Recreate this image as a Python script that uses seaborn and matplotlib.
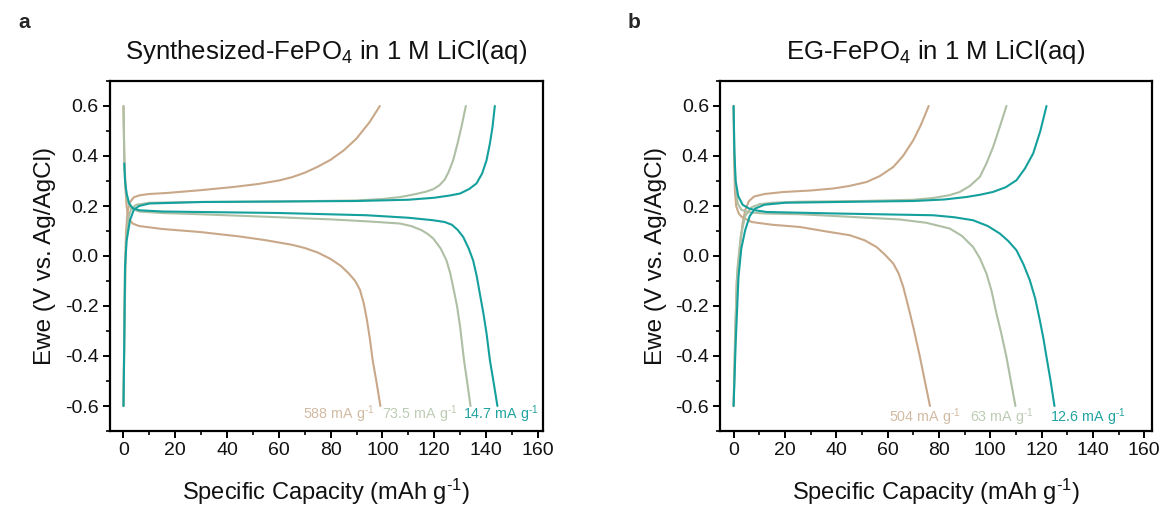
import numpy as np
import pandas as pd
import matplotlib
matplotlib.use("Agg")
import matplotlib.pyplot as plt
import seaborn as sns
from matplotlib.ticker import MultipleLocator

# ---------------- data (panel a: Synthesized-FePO4) ----------------
a_tan_chg_x = [0, 0.3, 0.6, 1.0, 1.6, 2.5, 4, 6.3, 10, 16.6, 29.5, 42.4, 52, 60, 65, 70, 75, 80, 85, 90, 95, 99]
a_tan_chg_y = [-0.6, -0.3, -0.05, 0.1, 0.18, 0.215, 0.235, 0.243, 0.248, 0.252, 0.263, 0.276, 0.288, 0.302, 0.315, 0.333, 0.357, 0.385, 0.422, 0.47, 0.535, 0.6]
a_tan_dis_x = [0, 0.3, 0.7, 1.2, 2, 3.5, 6, 15, 29.5, 45, 55, 65, 70, 75, 80, 84, 87, 89.5, 91.3, 92.8, 94, 95.2, 96.2, 97.8, 99.2]
a_tan_dis_y = [0.6, 0.4, 0.28, 0.2, 0.15, 0.13, 0.12, 0.108, 0.096, 0.078, 0.063, 0.045, 0.032, 0.014, -0.012, -0.04, -0.07, -0.1, -0.135, -0.19, -0.255, -0.335, -0.415, -0.51, -0.6]

a_sage_chg_x = [0, 0.5, 1, 1.8, 3, 5, 10, 30, 60, 90, 100, 107, 113, 117, 119.6, 122, 124, 125.5, 127.3, 129, 130.5, 132.2]
a_sage_chg_y = [-0.6, -0.2, 0.05, 0.15, 0.19, 0.205, 0.213, 0.216, 0.218, 0.222, 0.228, 0.236, 0.248, 0.258, 0.267, 0.283, 0.305, 0.335, 0.383, 0.45, 0.516, 0.6]
a_sage_dis_x = [0, 0.3, 0.8, 1.5, 3, 6, 15, 29.5, 55, 81, 95, 106.7, 111, 115, 117.5, 119.6, 122.5, 124.7, 126.2, 127.3, 128.8, 130, 131.5, 132.8, 134]
a_sage_dis_y = [0.6, 0.4, 0.28, 0.22, 0.19, 0.178, 0.172, 0.167, 0.157, 0.146, 0.138, 0.13, 0.12, 0.104, 0.088, 0.07, 0.03, -0.017, -0.07, -0.124, -0.2, -0.284, -0.417, -0.51, -0.6]

a_teal_chg_x = [0, 0.3, 0.6, 1.2, 2.5, 4, 6, 10, 30, 60, 90, 110, 120, 126, 130, 133.5, 136.3, 138.5, 140.2, 141.5, 142.5, 143.4]
a_teal_chg_y = [-0.6, -0.35, -0.044, 0.06, 0.143, 0.185, 0.2, 0.21, 0.216, 0.218, 0.22, 0.225, 0.233, 0.242, 0.25, 0.268, 0.29, 0.33, 0.383, 0.45, 0.516, 0.6]
a_teal_dis_x = [0.3, 0.6, 1.2, 2.2, 3.5, 6, 15, 29.5, 60, 93.9, 110, 119.6, 124, 126.8, 129, 131.2, 133.3, 135, 136.4, 137.6, 139, 140.2, 141.5, 143, 144.4]
a_teal_dis_y = [0.37, 0.3, 0.25, 0.21, 0.192, 0.183, 0.178, 0.176, 0.172, 0.163, 0.153, 0.143, 0.136, 0.125, 0.105, 0.076, 0.03, -0.017, -0.08, -0.15, -0.23, -0.31, -0.417, -0.51, -0.6]

# ---------------- data (panel b: EG-FePO4) ----------------
b_tan_chg_x = [0, 0.6, 1.2, 2.5, 3.5, 4.5, 6, 8, 12, 19.4, 30, 38.8, 45, 51.8, 57, 62.2, 66, 70, 73, 76]
b_tan_chg_y = [-0.6, -0.35, -0.1, 0.04, 0.13, 0.183, 0.22, 0.238, 0.248, 0.256, 0.262, 0.27, 0.28, 0.296, 0.32, 0.356, 0.4, 0.463, 0.525, 0.6]
b_tan_dis_x = [0, 0.2, 0.5, 1, 2, 3.2, 7, 15, 25.9, 35, 45.3, 51, 55.7, 59, 62.2, 64.3, 66.1, 68, 70, 72.6, 74.5, 76.5]
b_tan_dis_y = [0.6, 0.4, 0.26, 0.2, 0.17, 0.156, 0.136, 0.125, 0.116, 0.1, 0.083, 0.063, 0.036, 0.005, -0.03, -0.07, -0.124, -0.2, -0.284, -0.404, -0.5, -0.6]

b_sage_chg_x = [0, 0.6, 1.5, 2.8, 4.5, 7, 10, 15, 25, 50, 70, 77.7, 84, 88.1, 92, 95.9, 98.5, 101.1, 103.8, 106.3]
b_sage_chg_y = [-0.6, -0.3, -0.05, 0.08, 0.16, 0.195, 0.207, 0.213, 0.217, 0.22, 0.225, 0.232, 0.243, 0.256, 0.28, 0.316, 0.37, 0.436, 0.52, 0.6]
b_sage_dis_x = [0, 0.3, 0.8, 1.6, 3, 6, 12, 25.9, 45, 64.8, 75, 84.2, 89, 93.3, 96, 98.5, 100.5, 102.4, 104.3, 106.3, 108, 109.8]
b_sage_dis_y = [0.6, 0.4, 0.27, 0.21, 0.185, 0.175, 0.17, 0.167, 0.157, 0.146, 0.133, 0.11, 0.08, 0.036, -0.01, -0.07, -0.14, -0.23, -0.31, -0.404, -0.5, -0.6]

b_teal_chg_x = [0, 0.8, 1.9, 3, 4.5, 6.3, 8.4, 12, 20, 40, 70, 82, 90.7, 96, 101, 106, 110.2, 113.5, 116.7, 119.5, 121.9]
b_teal_chg_y = [-0.6, -0.35, -0.084, 0.03, 0.103, 0.16, 0.19, 0.205, 0.213, 0.216, 0.22, 0.226, 0.236, 0.245, 0.256, 0.275, 0.303, 0.35, 0.41, 0.5, 0.6]
b_teal_dis_x = [0, 0.3, 0.8, 1.8, 3.5, 6, 9, 12.9, 40, 77.7, 86, 93.3, 99, 103.7, 107, 110.2, 113, 115.4, 117.5, 119.3, 120.7, 121.9, 123.5, 125]
b_teal_dis_y = [0.6, 0.42, 0.3, 0.24, 0.205, 0.19, 0.182, 0.176, 0.17, 0.163, 0.155, 0.143, 0.12, 0.09, 0.06, 0.023, -0.035, -0.097, -0.17, -0.257, -0.33, -0.404, -0.5, -0.6]

a_rates = ["588 mA g$^{\\text{-1}}$", "73.5 mA g$^{\\text{-1}}$", "14.7 mA g$^{\\text{-1}}$"]
b_rates = ["504 mA g$^{\\text{-1}}$", "63 mA g$^{\\text{-1}}$", "12.6 mA g$^{\\text{-1}}$"]
titles = ["Synthesized-FePO$_4$ in 1 M LiCl(aq)", "EG-FePO$_4$ in 1 M LiCl(aq)"]
xlabel = "Specific Capacity (mAh g$^{\\text{-1}}$)"
ylabel = "Ewe (V vs. Ag/AgCl)"
panel_letters = ["a", "b"]

# ---------------- style ----------------
sns.set_theme(style="ticks")
plt.rcParams['font.family'] = ['Liberation Sans', 'DejaVu Sans']
plt.rcParams['mathtext.fontset'] = 'custom'
plt.rcParams['mathtext.rm'] = 'Liberation Sans'
plt.rcParams['mathtext.it'] = 'Liberation Sans:italic'
plt.rcParams['mathtext.bf'] = 'Liberation Sans:bold'

colors = ["#C8A888", "#AEBFA4", "#14A09C"]
label_colors = ["#D2BBA3", "#BDCCB4", "#21A3A0"]

W, H = 1160, 508
fig = plt.figure(figsize=(W / 100, H / 100), dpi=100)

def box(x0, x1, ytop, ybot):
    return [x0 / W, 1 - ybot / H, (x1 - x0) / W, (ybot - ytop) / H]

ax_a = fig.add_axes(box(109.5, 543, 81, 431))
ax_b = fig.add_axes(box(720, 1152, 81, 431))

panels = [
    (ax_a, [(a_tan_chg_x, a_tan_chg_y, a_tan_dis_x, a_tan_dis_y),
            (a_sage_chg_x, a_sage_chg_y, a_sage_dis_x, a_sage_dis_y),
            (a_teal_chg_x, a_teal_chg_y, a_teal_dis_x, a_teal_dis_y)],
     a_rates, [69.2, 99.7, 131.0], -0.633, (-5.4, 162.0)),
    (ax_b, [(b_tan_chg_x, b_tan_chg_y, b_tan_dis_x, b_tan_dis_y),
            (b_sage_chg_x, b_sage_chg_y, b_sage_dis_x, b_sage_dis_y),
            (b_teal_chg_x, b_teal_chg_y, b_teal_dis_x, b_teal_dis_y)],
     b_rates, [60.6, 92.0, 123.2], -0.643, (-5.3, 163.0)),
]

for i, (ax, curves, rates, lx, ly, xlim) in enumerate(panels):
    for j, (cx, cy, dx, dy) in enumerate(curves):
        df_c = pd.DataFrame({"x": cx, "y": cy})
        df_d = pd.DataFrame({"x": dx, "y": dy})
        sns.lineplot(data=df_c, x="x", y="y", ax=ax, color=colors[j], lw=1.5,
                     sort=False, estimator=None)
        sns.lineplot(data=df_d, x="x", y="y", ax=ax, color=colors[j], lw=1.5,
                     sort=False, estimator=None)
        ax.text(lx[j], ly, rates[j], color=label_colors[j], fontsize=10.3,
                ha="left", va="center")
    ax.set_xlim(*xlim)
    ax.set_ylim(-0.7, 0.7)
    ax.xaxis.set_major_locator(MultipleLocator(20))
    ax.xaxis.set_minor_locator(MultipleLocator(10))
    ax.yaxis.set_major_locator(MultipleLocator(0.2))
    ax.yaxis.set_minor_locator(MultipleLocator(0.1))
    ax.yaxis.set_major_formatter(matplotlib.ticker.FuncFormatter(
        lambda v, p: f"{v:.1f}".replace("-0.0", "0.0")))
    ax.tick_params(which="major", direction="out", length=5, width=1.4, labelsize=14,
                   top=False, right=False, color="black", labelcolor="#111111", pad=3)
    ax.tick_params(which="minor", direction="out", length=3, width=1.2,
                   top=False, right=False, color="black")
    for s in ax.spines.values():
        s.set_linewidth(1.6)
        s.set_color("black")
        s.set_visible(True)
    ax.set_xlabel(xlabel, fontsize=17, labelpad=13, color="#111111")
    ax.set_ylabel(ylabel, fontsize=17.5, labelpad=6, color="#111111")
    ax.set_title(titles[i], fontsize=18.5, pad=16, color="#111111")
    ax.grid(False)

fig.text(18 / W, 1 - 22 / H, panel_letters[0], fontsize=15, fontweight="bold", va="center", ha="left")
fig.text(628 / W, 1 - 22 / H, panel_letters[1], fontsize=15, fontweight="bold", va="center", ha="left")

fig.savefig("out.png", dpi=100, facecolor="white")
